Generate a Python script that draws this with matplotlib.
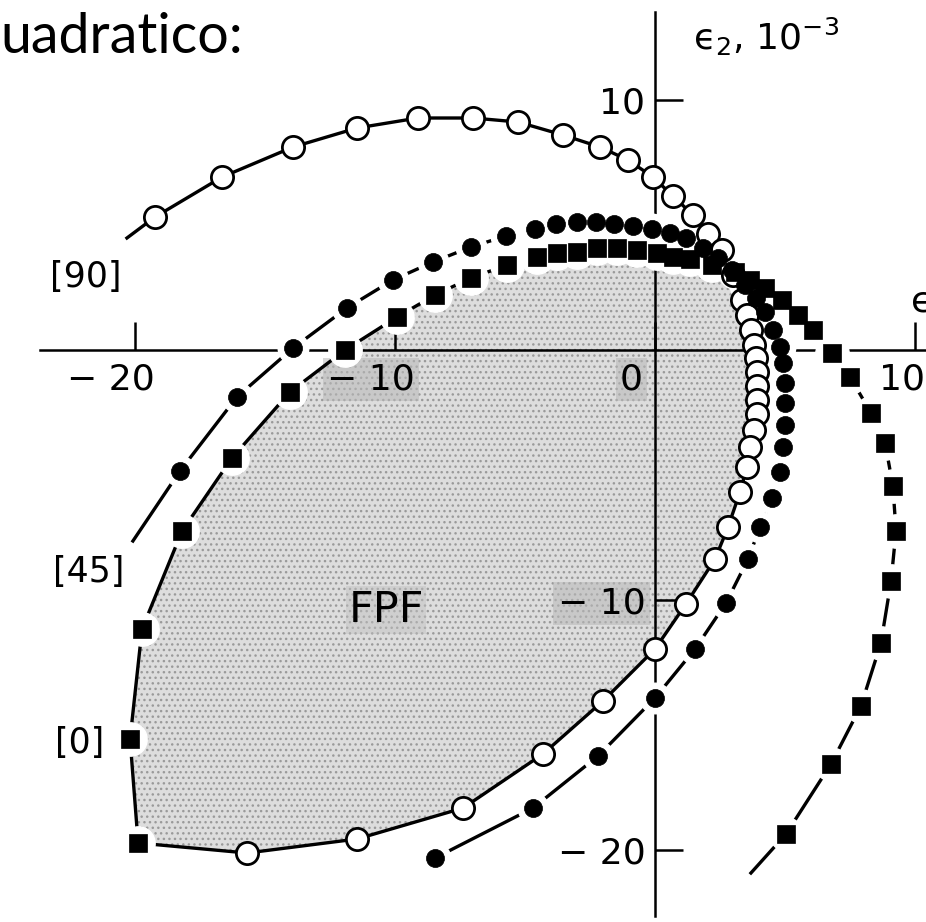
import numpy as np
import matplotlib
matplotlib.use("Agg")
import matplotlib.pyplot as plt
from matplotlib.transforms import ScaledTranslation

# ---- data (strains in units of 1e-3) ----
# [90] envelope: open circles, solid line (first & last points are line ends)
ply90_e1 = [-20.31, -19.23, -16.65, -13.92, -11.46, -9.12, -7.00, -5.27, -3.54, -2.12,
            -1.04, -0.08, 0.69, 1.46, 2.04, 2.58, 3.00, 3.35, 3.54, 3.69,
            3.81, 3.88, 3.92, 3.92, 3.92, 3.92, 3.81, 3.65, 3.54, 3.27,
            2.81, 2.31, 1.19, 0.00, -2.00, -4.31, -7.38, -11.46, -15.69, -19.88]
ply90_e2 = [4.48, 5.32, 6.92, 8.12, 8.88, 9.28, 9.28, 9.12, 8.60, 8.12,
            7.60, 6.92, 6.16, 5.40, 4.64, 4.00, 3.00, 2.00, 1.40, 0.80,
            0.20, -0.32, -0.88, -1.44, -2.00, -2.56, -3.20, -3.88, -4.68, -5.68,
            -7.08, -8.36, -10.16, -11.96, -14.04, -16.16, -18.32, -19.56, -20.12, -19.72]

# [45] envelope: filled circles, broken line (first point is a line end)
ply45_e1 = [-20.08, -18.27, -16.08, -13.92, -11.85, -10.08, -8.54, -7.08, -5.73, -4.62,
            -3.81, -3.00, -2.27, -1.58, -0.85, -0.12, 0.58, 1.19, 1.85, 2.42,
            2.96, 3.46, 3.88, 4.23, 4.54, 4.81, 4.92, 5.00, 5.00, 5.00,
            4.92, 4.81, 4.50, 4.04, 3.58, 2.73, 1.54, 0.00, -2.19, -4.69, -8.46]
ply45_e2 = [-7.64, -4.84, -1.88, 0.08, 1.68, 2.80, 3.52, 4.12, 4.56, 4.84,
            5.04, 5.12, 5.12, 5.04, 4.96, 4.84, 4.68, 4.48, 4.08, 3.68,
            3.20, 2.60, 2.08, 1.52, 0.80, 0.12, -0.52, -1.32, -2.12, -3.00,
            -3.88, -4.88, -5.92, -7.08, -8.36, -10.12, -11.96, -13.92, -16.24, -18.32, -20.32]

# [0] envelope: filled squares, broken line (last point is a line end)
ply0_e1 = [-19.88, -20.19, -19.73, -18.19, -16.27, -14.04, -11.92, -9.92, -8.46, -7.08,
           -5.69, -4.54, -3.77, -3.00, -2.23, -1.46, -0.69, 0.08, 0.69, 1.35,
           2.19, 3.08, 3.65, 4.23, 4.88, 5.50, 6.08, 6.81, 7.50, 8.31,
           8.85, 9.15, 9.27, 9.08, 8.69, 7.92, 6.77, 5.04, 3.69]
ply0_e2 = [-19.72, -15.56, -11.16, -7.24, -4.32, -1.68, 0.00, 1.32, 2.20, 2.88,
           3.40, 3.72, 3.88, 3.92, 4.08, 4.08, 4.00, 3.88, 3.72, 3.64,
           3.40, 3.12, 2.80, 2.48, 2.00, 1.40, 0.80, -0.12, -1.08, -2.52,
           -3.72, -5.44, -7.24, -9.24, -11.72, -14.24, -16.56, -19.36, -20.92]

x_ticks = [-20, -10, 0, 10]
x_ticklabels = ["\u2212 20", "\u2212 10", "0", "10"]
y_ticks = [-20, -10, 10]
y_ticklabels = ["\u2212 20", "\u2212 10", "10"]

curve_labels = ["[90]", "[45]", "[0]"]
title_text = "uadratico:"

plt.rcParams["font.family"] = ["DejaVu Sans"]
plt.rcParams["hatch.linewidth"] = 1.0

fig = plt.figure(figsize=(9.26, 9.22), dpi=100)
ax = fig.add_axes([0, 0, 1, 1])
PX, PY = 26.0, 25.0
ax.set_xlim(-655 / PX, (926 - 655) / PX)
ax.set_ylim((350 - 922) / PY, 350 / PY)

for s in ["top", "right"]:
    ax.spines[s].set_visible(False)
ax.spines["left"].set_position(("data", 0))
ax.spines["bottom"].set_position(("data", 0))
ax.spines["left"].set_bounds((350 - 916) / PY, (350 - 12) / PY)
ax.spines["bottom"].set_bounds((40 - 655) / PX, (926 - 655) / PX)
for s in ["left", "bottom"]:
    ax.spines[s].set_linewidth(1.8)
    ax.spines[s].set_zorder(2.5)

ax.set_xticks(x_ticks)
ax.set_xticklabels(x_ticklabels)
ax.set_yticks(y_ticks)
ax.set_yticklabels(y_ticklabels)
ax.tick_params(axis="both", direction="in", length=20, width=1.8, labelsize=26)
ax.tick_params(axis="x", pad=9)
ax.tick_params(axis="y", pad=7)

x_offsets = [20, 20, -12, 10]
for lab, dx in zip(ax.get_xticklabels(), x_offsets):
    lab.set_horizontalalignment("right")
    lab.set_transform(lab.get_transform() + ScaledTranslation(dx / 100, 0, fig.dpi_scale_trans))
gray_box = dict(facecolor="#b8b8b8", edgecolor="none", alpha=0.55, pad=3)
for lab in ax.get_xticklabels():
    if lab.get_text() in ("\u2212 10", "0"):
        lab.set_bbox(gray_box)
for lab in ax.get_yticklabels():
    if lab.get_text() == "\u2212 10":
        lab.set_bbox(gray_box)

# ---- FPF shaded region: inside both the [0] and [90] envelopes ----
fpf_e1 = np.concatenate([ply0_e1[:22], ply90_e1[17:]])
fpf_e2 = np.concatenate([ply0_e2[:22], ply90_e2[17:]])
ax.fill(fpf_e1, fpf_e2, facecolor="#dddddd", edgecolor="#9a9a9a", hatch="...",
        linewidth=0, zorder=1)

# ---- curves ----
LW = 2.4
# [90]
ax.plot(ply90_e1, ply90_e2, color="black", lw=LW, zorder=2)
# [45]
every45 = slice(1, None)
ax.plot(ply45_e1, ply45_e2, color="black", lw=LW, zorder=2)
ax.plot(ply45_e1, ply45_e2, ls="none", marker="o", ms=22, mfc="white", mec="white",
        markevery=every45, zorder=3)
# [0]
every0 = slice(0, -1)
ax.plot(ply0_e1, ply0_e2, color="black", lw=LW, zorder=2)
ax.plot(ply0_e1, ply0_e2, ls="none", marker="o", ms=24, mfc="white", mec="white",
        markevery=every0, zorder=3)

ax.plot(ply90_e1, ply90_e2, ls="none", marker="o", ms=16, mfc="white", mec="black",
        mew=2.0, markevery=slice(1, len(ply90_e1) - 1), zorder=4)
ax.plot(ply45_e1, ply45_e2, ls="none", marker="o", ms=13, mfc="black", mec="black",
        mew=0.5, markevery=every45, zorder=5)
ax.plot(ply0_e1, ply0_e2, ls="none", marker="s", ms=12.5, mfc="black", mec="black",
        mew=0.5, markevery=every0, zorder=6)

# ---- texts ----
ax.text((86 - 655) / PX, (350 - 277) / PY, curve_labels[0], ha="center", va="center", fontsize=25)
ax.text((89 - 655) / PX, (350 - 572) / PY, curve_labels[1], ha="center", va="center", fontsize=25)
ax.text((80 - 655) / PX, (350 - 743) / PY, curve_labels[2], ha="center", va="center", fontsize=25)
ax.text((386 - 655) / PX, (350 - 610) / PY, "FPF", ha="center", va="center", fontsize=31,
        bbox=dict(facecolor="#c0c0c0", edgecolor="none", alpha=0.45, pad=2), zorder=3)
ax.text((693 - 655) / PX, (350 - 50) / PY, "\u03f5$_2$, 10$^{-3}$", ha="left",
        va="baseline", fontsize=26)
ax.text((910 - 655) / PX, (350 - 313) / PY, "\u03f5$_1$, 10$^{-3}$", ha="left",
        va="baseline", fontsize=26)

fig.text(0.0, 1 - 53 / 922, title_text, fontsize=40, family=["Lato", "DejaVu Sans"],
         va="baseline", ha="left")

fig.savefig("out.png", dpi=100)
